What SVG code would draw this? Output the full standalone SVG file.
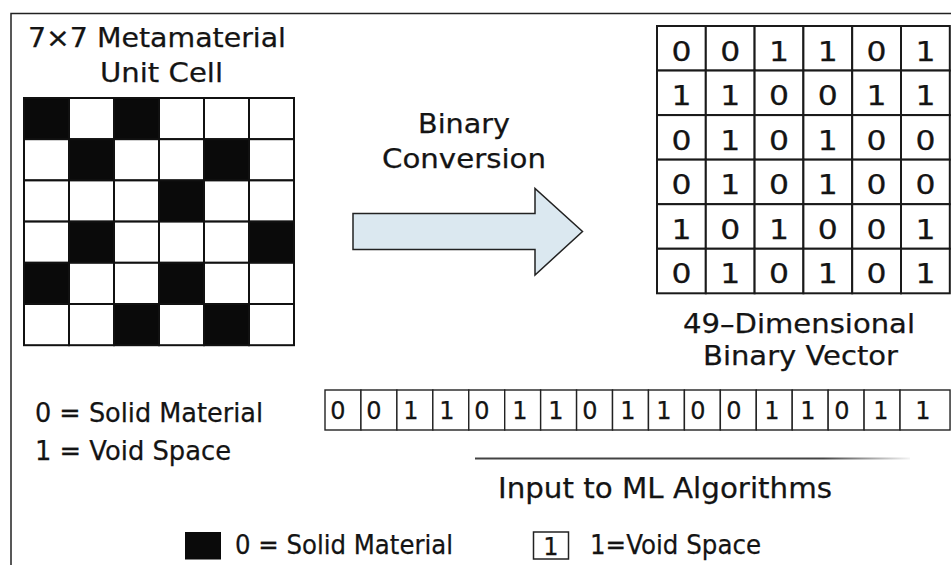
<svg xmlns="http://www.w3.org/2000/svg" width="951" height="565" viewBox="0 0 951 565">
<defs>
<style>
text{font-family:"DejaVu Sans","Liberation Sans",sans-serif;fill:#141414;stroke:#141414;stroke-width:0.25px}
.t26{font-size:27px}
.t25{font-size:26px}
.t27{font-size:28px}
.c{stroke:#111;stroke-width:2;fill:#fff}
.k{stroke:#111;stroke-width:2;fill:#0a0a0a}
.m{stroke:#1a1a1a;stroke-width:2;fill:#fff}
.v{stroke:#222;stroke-width:1.4;fill:#fff}
.gd{font-size:26px;text-anchor:middle}
.vd{font-size:24px;text-anchor:middle}
</style>
<linearGradient id="fade" x1="475" y1="0" x2="910" y2="0" gradientUnits="userSpaceOnUse">
<stop offset="0" stop-color="#222" stop-opacity="0.85"/>
<stop offset="0.8" stop-color="#222" stop-opacity="0.85"/>
<stop offset="1" stop-color="#222" stop-opacity="0.05"/>
</linearGradient>
</defs>
<rect width="951" height="565" fill="#fff"/>
<g id="frame" fill="none" stroke="#222" stroke-width="1.5">
<path d="M951 13.5H11V565"/>
</g>

<g id="unit-cell-title">
<text class="t26" x="28" y="47" textLength="258" lengthAdjust="spacingAndGlyphs">7×7 Metamaterial</text>
<text class="t26" x="100" y="82" textLength="123" lengthAdjust="spacingAndGlyphs">Unit Cell</text>
</g>

<g id="unit-cell-grid">
<rect class="k" x="24" y="98" width="45" height="41.2"/>
<rect class="c" x="69" y="98" width="45" height="41.2"/>
<rect class="k" x="114" y="98" width="45" height="41.2"/>
<rect class="c" x="159" y="98" width="45" height="41.2"/>
<rect class="c" x="204" y="98" width="45" height="41.2"/>
<rect class="c" x="249" y="98" width="45" height="41.2"/>

<rect class="c" x="24" y="139.2" width="45" height="41.2"/>
<rect class="k" x="69" y="139.2" width="45" height="41.2"/>
<rect class="c" x="114" y="139.2" width="45" height="41.2"/>
<rect class="c" x="159" y="139.2" width="45" height="41.2"/>
<rect class="k" x="204" y="139.2" width="45" height="41.2"/>
<rect class="c" x="249" y="139.2" width="45" height="41.2"/>

<rect class="c" x="24" y="180.4" width="45" height="41.2"/>
<rect class="c" x="69" y="180.4" width="45" height="41.2"/>
<rect class="c" x="114" y="180.4" width="45" height="41.2"/>
<rect class="k" x="159" y="180.4" width="45" height="41.2"/>
<rect class="c" x="204" y="180.4" width="45" height="41.2"/>
<rect class="c" x="249" y="180.4" width="45" height="41.2"/>

<rect class="c" x="24" y="221.6" width="45" height="41.2"/>
<rect class="k" x="69" y="221.6" width="45" height="41.2"/>
<rect class="c" x="114" y="221.6" width="45" height="41.2"/>
<rect class="c" x="159" y="221.6" width="45" height="41.2"/>
<rect class="c" x="204" y="221.6" width="45" height="41.2"/>
<rect class="k" x="249" y="221.6" width="45" height="41.2"/>

<rect class="k" x="24" y="262.8" width="45" height="41.2"/>
<rect class="c" x="69" y="262.8" width="45" height="41.2"/>
<rect class="c" x="114" y="262.8" width="45" height="41.2"/>
<rect class="k" x="159" y="262.8" width="45" height="41.2"/>
<rect class="c" x="204" y="262.8" width="45" height="41.2"/>
<rect class="c" x="249" y="262.8" width="45" height="41.2"/>

<rect class="c" x="24" y="304" width="45" height="41.2"/>
<rect class="c" x="69" y="304" width="45" height="41.2"/>
<rect class="k" x="114" y="304" width="45" height="41.2"/>
<rect class="c" x="159" y="304" width="45" height="41.2"/>
<rect class="k" x="204" y="304" width="45" height="41.2"/>
<rect class="c" x="249" y="304" width="45" height="41.2"/>
</g>

<g id="binary-conversion-label">
<text class="t25" x="418" y="133" textLength="92" lengthAdjust="spacingAndGlyphs">Binary</text>
<text class="t25" x="382" y="168" textLength="164" lengthAdjust="spacingAndGlyphs">Conversion</text>
</g>

<g id="connectors">
<polygon points="353,213.5 535,213.5 535,188.5 582.5,231.5 535,275 535,249.5 353,249.5" fill="#dbe8f0" stroke="#222" stroke-width="1.5" stroke-linejoin="miter"/>
</g>

<g id="binary-matrix">
<rect class="m" x="657" y="26" width="48.8" height="44.55"/>
<rect class="m" x="705.8" y="26" width="48.8" height="44.55"/>
<rect class="m" x="754.6" y="26" width="48.8" height="44.55"/>
<rect class="m" x="803.4" y="26" width="48.8" height="44.55"/>
<rect class="m" x="852.2" y="26" width="48.8" height="44.55"/>
<rect class="m" x="901" y="26" width="48.8" height="44.55"/>
<rect class="m" x="657" y="70.55" width="48.8" height="44.55"/>
<rect class="m" x="705.8" y="70.55" width="48.8" height="44.55"/>
<rect class="m" x="754.6" y="70.55" width="48.8" height="44.55"/>
<rect class="m" x="803.4" y="70.55" width="48.8" height="44.55"/>
<rect class="m" x="852.2" y="70.55" width="48.8" height="44.55"/>
<rect class="m" x="901" y="70.55" width="48.8" height="44.55"/>
<rect class="m" x="657" y="115.1" width="48.8" height="44.55"/>
<rect class="m" x="705.8" y="115.1" width="48.8" height="44.55"/>
<rect class="m" x="754.6" y="115.1" width="48.8" height="44.55"/>
<rect class="m" x="803.4" y="115.1" width="48.8" height="44.55"/>
<rect class="m" x="852.2" y="115.1" width="48.8" height="44.55"/>
<rect class="m" x="901" y="115.1" width="48.8" height="44.55"/>
<rect class="m" x="657" y="159.65" width="48.8" height="44.55"/>
<rect class="m" x="705.8" y="159.65" width="48.8" height="44.55"/>
<rect class="m" x="754.6" y="159.65" width="48.8" height="44.55"/>
<rect class="m" x="803.4" y="159.65" width="48.8" height="44.55"/>
<rect class="m" x="852.2" y="159.65" width="48.8" height="44.55"/>
<rect class="m" x="901" y="159.65" width="48.8" height="44.55"/>
<rect class="m" x="657" y="204.2" width="48.8" height="44.55"/>
<rect class="m" x="705.8" y="204.2" width="48.8" height="44.55"/>
<rect class="m" x="754.6" y="204.2" width="48.8" height="44.55"/>
<rect class="m" x="803.4" y="204.2" width="48.8" height="44.55"/>
<rect class="m" x="852.2" y="204.2" width="48.8" height="44.55"/>
<rect class="m" x="901" y="204.2" width="48.8" height="44.55"/>
<rect class="m" x="657" y="248.75" width="48.8" height="44.55"/>
<rect class="m" x="705.8" y="248.75" width="48.8" height="44.55"/>
<rect class="m" x="754.6" y="248.75" width="48.8" height="44.55"/>
<rect class="m" x="803.4" y="248.75" width="48.8" height="44.55"/>
<rect class="m" x="852.2" y="248.75" width="48.8" height="44.55"/>
<rect class="m" x="901" y="248.75" width="48.8" height="44.55"/>

<text class="gd" x="681.4" y="60.5" textLength="20" lengthAdjust="spacingAndGlyphs">0</text>
<text class="gd" x="730.2" y="60.5" textLength="20" lengthAdjust="spacingAndGlyphs">0</text>
<text class="gd" x="779" y="60.5" textLength="20" lengthAdjust="spacingAndGlyphs">1</text>
<text class="gd" x="827.8" y="60.5" textLength="20" lengthAdjust="spacingAndGlyphs">1</text>
<text class="gd" x="876.6" y="60.5" textLength="20" lengthAdjust="spacingAndGlyphs">0</text>
<text class="gd" x="925.4" y="60.5" textLength="20" lengthAdjust="spacingAndGlyphs">1</text>

<text class="gd" x="681.4" y="105" textLength="20" lengthAdjust="spacingAndGlyphs">1</text>
<text class="gd" x="730.2" y="105" textLength="20" lengthAdjust="spacingAndGlyphs">1</text>
<text class="gd" x="779" y="105" textLength="20" lengthAdjust="spacingAndGlyphs">0</text>
<text class="gd" x="827.8" y="105" textLength="20" lengthAdjust="spacingAndGlyphs">0</text>
<text class="gd" x="876.6" y="105" textLength="20" lengthAdjust="spacingAndGlyphs">1</text>
<text class="gd" x="925.4" y="105" textLength="20" lengthAdjust="spacingAndGlyphs">1</text>

<text class="gd" x="681.4" y="149.6" textLength="20" lengthAdjust="spacingAndGlyphs">0</text>
<text class="gd" x="730.2" y="149.6" textLength="20" lengthAdjust="spacingAndGlyphs">1</text>
<text class="gd" x="779" y="149.6" textLength="20" lengthAdjust="spacingAndGlyphs">0</text>
<text class="gd" x="827.8" y="149.6" textLength="20" lengthAdjust="spacingAndGlyphs">1</text>
<text class="gd" x="876.6" y="149.6" textLength="20" lengthAdjust="spacingAndGlyphs">0</text>
<text class="gd" x="925.4" y="149.6" textLength="20" lengthAdjust="spacingAndGlyphs">0</text>

<text class="gd" x="681.4" y="194.1" textLength="20" lengthAdjust="spacingAndGlyphs">0</text>
<text class="gd" x="730.2" y="194.1" textLength="20" lengthAdjust="spacingAndGlyphs">1</text>
<text class="gd" x="779" y="194.1" textLength="20" lengthAdjust="spacingAndGlyphs">0</text>
<text class="gd" x="827.8" y="194.1" textLength="20" lengthAdjust="spacingAndGlyphs">1</text>
<text class="gd" x="876.6" y="194.1" textLength="20" lengthAdjust="spacingAndGlyphs">0</text>
<text class="gd" x="925.4" y="194.1" textLength="20" lengthAdjust="spacingAndGlyphs">0</text>

<text class="gd" x="681.4" y="238.7" textLength="20" lengthAdjust="spacingAndGlyphs">1</text>
<text class="gd" x="730.2" y="238.7" textLength="20" lengthAdjust="spacingAndGlyphs">0</text>
<text class="gd" x="779" y="238.7" textLength="20" lengthAdjust="spacingAndGlyphs">1</text>
<text class="gd" x="827.8" y="238.7" textLength="20" lengthAdjust="spacingAndGlyphs">0</text>
<text class="gd" x="876.6" y="238.7" textLength="20" lengthAdjust="spacingAndGlyphs">0</text>
<text class="gd" x="925.4" y="238.7" textLength="20" lengthAdjust="spacingAndGlyphs">1</text>

<text class="gd" x="681.4" y="283.2" textLength="20" lengthAdjust="spacingAndGlyphs">0</text>
<text class="gd" x="730.2" y="283.2" textLength="20" lengthAdjust="spacingAndGlyphs">1</text>
<text class="gd" x="779" y="283.2" textLength="20" lengthAdjust="spacingAndGlyphs">0</text>
<text class="gd" x="827.8" y="283.2" textLength="20" lengthAdjust="spacingAndGlyphs">1</text>
<text class="gd" x="876.6" y="283.2" textLength="20" lengthAdjust="spacingAndGlyphs">0</text>
<text class="gd" x="925.4" y="283.2" textLength="20" lengthAdjust="spacingAndGlyphs">1</text>
</g>

<g id="vector-label">
<text class="t26" x="683" y="333" textLength="232" lengthAdjust="spacingAndGlyphs">49–Dimensional</text>
<text class="t26" x="703" y="365" textLength="195" lengthAdjust="spacingAndGlyphs">Binary Vector</text>
</g>

<g id="legend-text">
<text class="t25" x="35" y="422" textLength="228" lengthAdjust="spacingAndGlyphs">0 = Solid Material</text>
<text class="t25" x="35" y="460" textLength="196" lengthAdjust="spacingAndGlyphs">1 = Void Space</text>
</g>

<g id="vector-row">
<rect class="v" x="325" y="390" width="35.94" height="40"/>
<rect class="v" x="360.94" y="390" width="35.94" height="40"/>
<rect class="v" x="396.88" y="390" width="35.94" height="40"/>
<rect class="v" x="432.82" y="390" width="35.94" height="40"/>
<rect class="v" x="468.76" y="390" width="35.94" height="40"/>
<rect class="v" x="504.7" y="390" width="35.94" height="40"/>
<rect class="v" x="540.64" y="390" width="35.94" height="40"/>
<rect class="v" x="576.58" y="390" width="35.94" height="40"/>
<rect class="v" x="612.52" y="390" width="35.94" height="40"/>
<rect class="v" x="648.46" y="390" width="35.94" height="40"/>
<rect class="v" x="684.4" y="390" width="35.94" height="40"/>
<rect class="v" x="720.34" y="390" width="35.94" height="40"/>
<rect class="v" x="756.28" y="390" width="35.94" height="40"/>
<rect class="v" x="792.22" y="390" width="35.94" height="40"/>
<rect class="v" x="828.16" y="390" width="35.94" height="40"/>
<rect class="v" x="864.1" y="390" width="35.94" height="40"/>
<rect class="v" x="900.04" y="390" width="50" height="40"/>
<text class="vd" x="338" y="419">0</text>
<text class="vd" x="374" y="419">0</text>
<text class="vd" x="411" y="419">1</text>
<text class="vd" x="447" y="419">1</text>
<text class="vd" x="482" y="419">0</text>
<text class="vd" x="520" y="419">1</text>
<text class="vd" x="556" y="419">1</text>
<text class="vd" x="590" y="419">0</text>
<text class="vd" x="628" y="419">1</text>
<text class="vd" x="664" y="419">1</text>
<text class="vd" x="698" y="419">0</text>
<text class="vd" x="734" y="419">0</text>
<text class="vd" x="772" y="419">1</text>
<text class="vd" x="808" y="419">1</text>
<text class="vd" x="842" y="419">0</text>
<text class="vd" x="881" y="419">1</text>
<text class="vd" x="923" y="419">1</text>
</g>

<g id="ml-input">
<line x1="475" y1="458.5" x2="910" y2="458.5" stroke="url(#fade)" stroke-width="1.8"/>
<text class="t27" x="498" y="498" textLength="334" lengthAdjust="spacingAndGlyphs">Input to ML Algorithms</text>
</g>

<g id="legend-solid">
<rect x="185" y="532" width="36" height="27.5" fill="#0a0a0a"/>
<text class="t25" x="235" y="554" textLength="218" lengthAdjust="spacingAndGlyphs">0 = Solid Material</text>
</g>

<g id="legend-void">
<rect x="533.5" y="532" width="35" height="27" fill="#fff" stroke="#222" stroke-width="1.5"/>
<text class="vd" x="551" y="554.5">1</text>
<text class="t25" x="590" y="554" textLength="171" lengthAdjust="spacingAndGlyphs">1=Void Space</text>
</g>
</svg>
